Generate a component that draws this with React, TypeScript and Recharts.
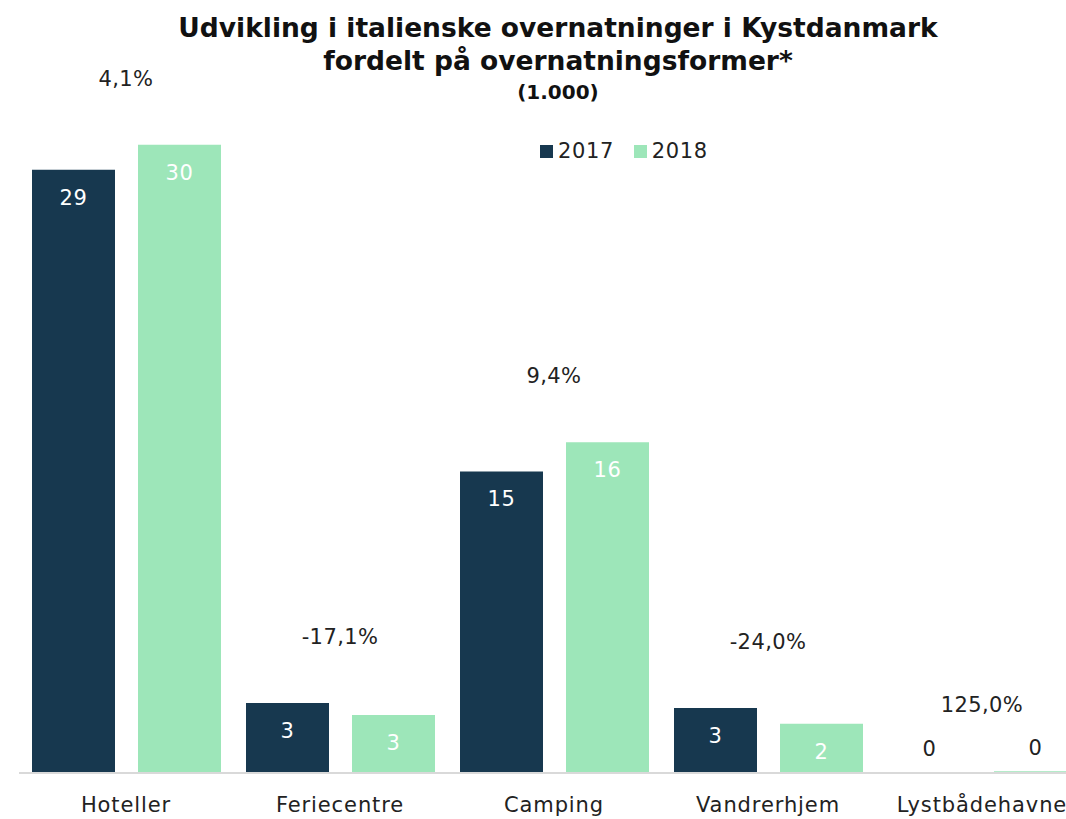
import React from 'react';
import { ComposedChart, Bar, Line, XAxis, YAxis, LabelList } from 'recharts';

const categories = ['Hoteller', 'Feriecentre', 'Camping', 'Vandrerhjem', 'Lystbådehavne'];
const values2017 = [29.0, 3.37, 14.5, 3.12, 0.04];
const values2018 = [30.2, 2.79, 15.9, 2.37, 0.09];
const growthLabels = ['4,1%', '-17,1%', '9,4%', '-24,0%', '125,0%'];
const seriesNames = ['2017', '2018'];

const DARK = '#17384f';
const GREEN = '#9de6b9';
const FONT = '"DejaVu Sans", sans-serif';

const data = categories.map((name, i) => ({
  name,
  y2017: values2017[i],
  y2018: values2018[i],
  top: Math.max(values2017[i], values2018[i]),
}));

const ValueLabel = (props: any) => {
  const { x, y, width, height, value } = props;
  const small = height < 20;
  return (
    <text
      x={x + width / 2}
      y={small ? y - 23 : y + 28}
      textAnchor="middle"
      dominantBaseline="central"
      fill={small ? '#222' : '#fff'}
      fontSize={21}
      fontFamily={FONT}
      letterSpacing={0.6}
    >
      {Math.round(value)}
    </text>
  );
};

const GrowthLabel = (props: any) => {
  const { x, y, index } = props;
  return (
    <text
      x={x}
      y={y - 66}
      textAnchor="middle"
      dominantBaseline="central"
      fill="#222"
      fontSize={21}
      fontFamily={FONT}
      letterSpacing={0.4}
    >
      {growthLabels[index]}
    </text>
  );
};

const CategoryTick = (props: any) => {
  const { x, y, payload } = props;
  return (
    <text
      x={x}
      y={y + 32}
      textAnchor="middle"
      dominantBaseline="central"
      fill="#222"
      fontSize={21}
      fontFamily={FONT}
      letterSpacing={0.9}
    >
      {payload.value}
    </text>
  );
};

export default function App() {
  return (
    <div style={{ position: 'fixed', left: 0, top: 0, width: 1066, height: 819, overflow: 'hidden', background: '#fff' }}>
      <div
        style={{
          position: 'absolute',
          left: 0,
          top: 11,
          width: 1116,
          textAlign: 'center',
          fontFamily: FONT,
          fontWeight: 'bold',
          color: '#111',
          zIndex: 2,
        }}
      >
        <div style={{ fontSize: 26.5, lineHeight: '33px' }}>Udvikling i italienske overnatninger i Kystdanmark</div>
        <div style={{ fontSize: 26.5, lineHeight: '33px' }}>fordelt på overnatningsformer*</div>
        <div style={{ fontSize: 20, lineHeight: '30px' }}>(1.000)</div>
      </div>
      <div
        style={{
          position: 'absolute',
          left: 540,
          top: 139,
          display: 'flex',
          alignItems: 'center',
          fontFamily: FONT,
          fontSize: 21,
          color: '#222',
          zIndex: 2,
        }}
      >
        <span style={{ width: 13, height: 13, background: DARK, display: 'inline-block', marginRight: 5 }} />
        <span style={{ marginRight: 20, letterSpacing: 0.6 }}>{seriesNames[0]}</span>
        <span style={{ width: 13, height: 13, background: GREEN, display: 'inline-block', marginRight: 5 }} />
        <span style={{ letterSpacing: 0.6 }}>{seriesNames[1]}</span>
      </div>
      <ComposedChart
        width={1116}
        height={819}
        data={data}
        margin={{ top: 45, right: 27, bottom: 0, left: 19 }}
        barGap={23}
      >
        <XAxis
          dataKey="name"
          height={46}
          tickLine={false}
          tickSize={0}
          tickMargin={0}
          axisLine={{ stroke: '#d9d9d9', strokeWidth: 2 }}
          tick={<CategoryTick />}
          interval={0}
        />
        <YAxis hide domain={[0, 35]} />
        <Bar dataKey="y2017" name={seriesNames[0]} fill={DARK} barSize={83} isAnimationActive={false}>
          <LabelList dataKey="y2017" content={<ValueLabel />} />
        </Bar>
        <Bar dataKey="y2018" name={seriesNames[1]} fill={GREEN} barSize={83} isAnimationActive={false}>
          <LabelList dataKey="y2018" content={<ValueLabel />} />
        </Bar>
        <Line
          dataKey="top"
          stroke="none"
          dot={false}
          activeDot={false}
          legendType="none"
          isAnimationActive={false}
          label={<GrowthLabel />}
        />
      </ComposedChart>
    </div>
  );
}
